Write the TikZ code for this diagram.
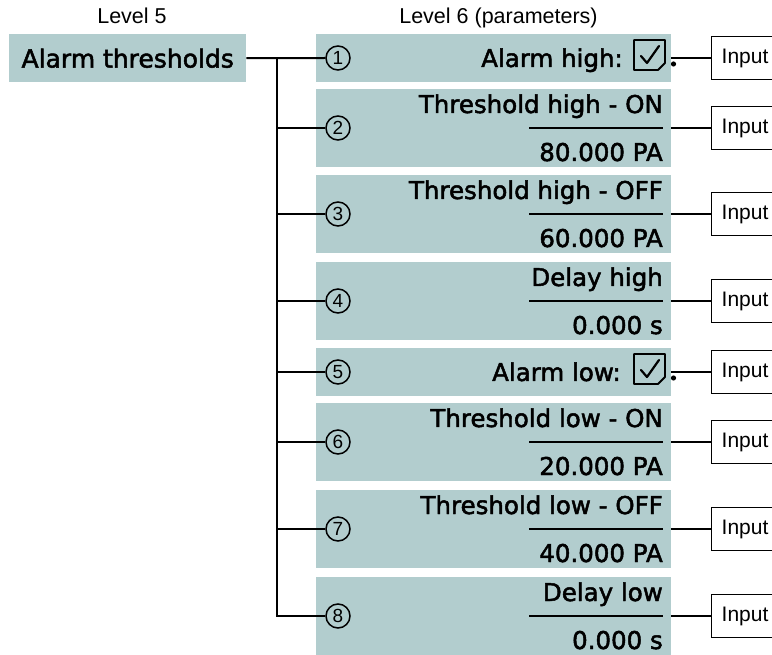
\documentclass[tikz,border=0pt]{standalone}
\usepackage{fontspec}
\setmainfont{Liberation Sans}
\newfontfamily\boxfont{DejaVu Sans}[FakeBold=2]
\definecolor{boxfill}{RGB}{178,205,206}
\begin{document}
\begin{tikzpicture}[x=1pt,y=-1pt,
  lbox/.style={fill=boxfill, inner sep=0pt, minimum width=237pt, minimum height=48pt,
    font=\boxfont\fontsize{25}{28}\selectfont},
  pbox/.style={fill=boxfill, inner sep=0pt, minimum width=355pt, anchor=north west},
  ttext/.style={inner sep=0pt, anchor=base east, font=\boxfont\fontsize{24.5}{28}\selectfont},
  num/.style={circle, draw, line width=1.5pt, minimum size=24pt, inner sep=0pt,
    font=\fontsize{19}{19}\selectfont},
  lvl/.style={inner sep=0pt, anchor=base, font=\fontsize{21.5}{24}\selectfont},
  inp/.style={draw, line width=1.4pt, anchor=west, minimum height=43pt, text width=70pt,
    inner xsep=10pt, inner ysep=0pt, font=\fontsize{21}{22}\selectfont},
  conn/.style={line width=2pt},
  divider/.style={line width=1.4pt},
  chkbox/.pic={
    \draw[line width=1.8pt, line join=round] (0,0) -- (31,0) -- (31,23) -- (24,30) -- (0,30) -- cycle;
    \draw[line width=2.2pt, line join=round, line cap=round] (7,16) -- (13,23) -- (25,6);
  }]
\useasboundingbox (0,0) rectangle (772,655);

% level labels
\node[lvl] (lv5) at (132,24) {Level 5};
\node[lvl] (lv6) at (498.5,24) {Level 6 (parameters)};

% level 5 box
\node[lbox, anchor=north west] (L) at (9,34) {Alarm thresholds};

% level 6 boxes
\node[pbox, minimum height=48pt] (b1) at (316,34) {};
\node[pbox, minimum height=78pt] (b2) at (316,89) {};
\node[pbox, minimum height=78pt] (b3) at (316,175) {};
\node[pbox, minimum height=78pt] (b4) at (316,262) {};
\node[pbox, minimum height=48pt] (b5) at (316,348) {};
\node[pbox, minimum height=78pt] (b6) at (316,403) {};
\node[pbox, minimum height=78pt] (b7) at (316,490) {};
\node[pbox, minimum height=78pt] (b8) at (316,577) {};

% number circles
\node[num] (c1) at (338,58) {1};
\node[num] (c2) at (338,128) {2};
\node[num] (c3) at (338,214) {3};
\node[num] (c4) at (338,301) {4};
\node[num] (c5) at (338,372) {5};
\node[num] (c6) at (338,442) {6};
\node[num] (c7) at (338,529) {7};
\node[num] (c8) at (338,616) {8};

% texts
\node[ttext] (t1) at (623,67) {Alarm high:};
\pic at (634,40) {chkbox};
\node[ttext] (t2a) at (663,113) {Threshold high - ON};
\node[ttext] (t2b) at (663,161) {80.000 PA};
\node[ttext] (t3a) at (663,199) {Threshold high - OFF};
\node[ttext] (t3b) at (663,247) {60.000 PA};
\node[ttext] (t4a) at (663,286) {Delay high};
\node[ttext] (t4b) at (663,334) {0.000 s};
\node[ttext] (t5) at (621,381) {Alarm low:};
\pic at (634,354) {chkbox};
\node[ttext] (t6a) at (663,427) {Threshold low - ON};
\node[ttext] (t6b) at (663,475) {20.000 PA};
\node[ttext] (t7a) at (663,514) {Threshold low - OFF};
\node[ttext] (t7b) at (663,562) {40.000 PA};
\node[ttext] (t8a) at (663,601) {Delay low};
\node[ttext] (t8b) at (663,649) {0.000 s};

% dividers
\foreach \yy in {128,214,301,442,529,616}
  \draw[divider] (529,\yy) -- (663,\yy);

% tree connectors
\coordinate (T) at (277,58);
\draw[conn] (L.east) -- (c1.west);
\draw[conn, line join=miter] (T) |- (c8.west);
\foreach \i in {2,...,7}
  \draw[conn] (T |- c\i) -- (c\i.west);

% input boxes
\begin{scope}
\clip (0,0) rectangle (772,655);
\node[inp] (i1) at (711,58) {Input};
\node[inp] (i2) at (711,128) {Input};
\node[inp] (i3) at (711,214) {Input};
\node[inp] (i4) at (711,301) {Input};
\node[inp] (i5) at (711,372) {Input};
\node[inp] (i6) at (711,442) {Input};
\node[inp] (i7) at (711,529) {Input};
\node[inp] (i8) at (711,616) {Input};
\end{scope}

\foreach \i in {1,...,8}
  \draw[conn] (b\i.east |- i\i) -- (i\i.west);

% small junction dots
\fill (673.5,64) circle (2.6pt);
\fill (673.5,378) circle (2.6pt);
\end{tikzpicture}
\end{document}
